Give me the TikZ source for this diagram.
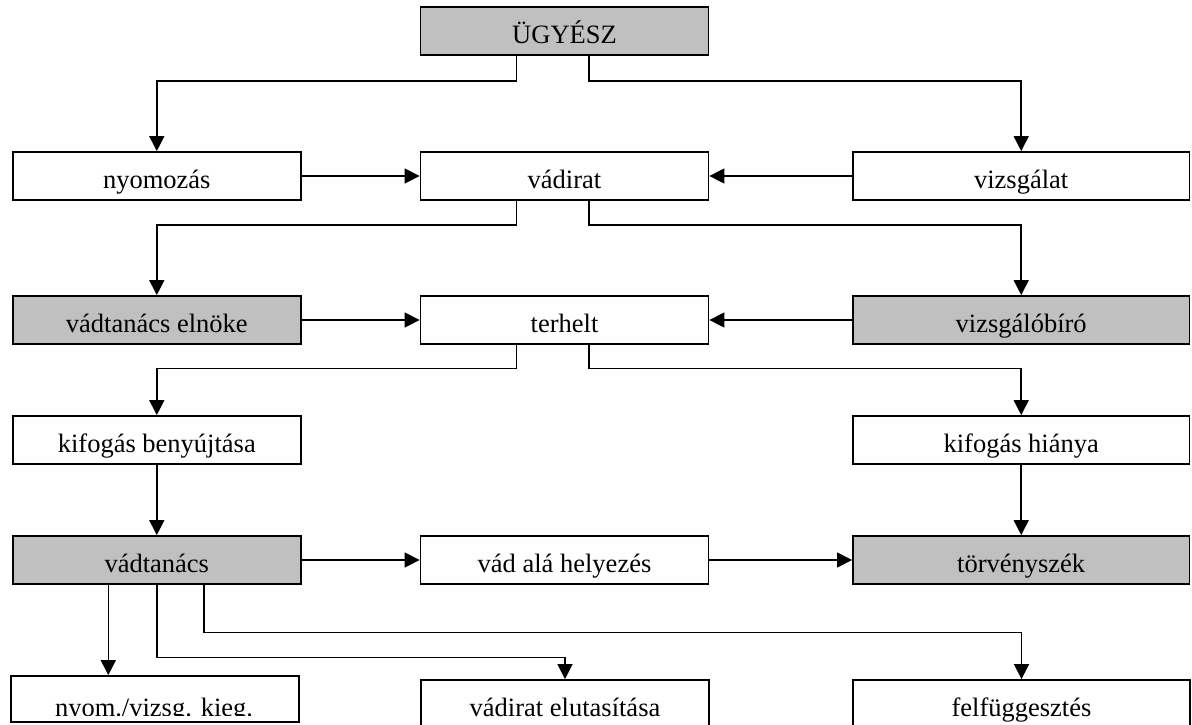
\documentclass[tikz,border=0pt]{standalone}
\usepackage{fontspec}
\setmainfont{Liberation Serif}
\usetikzlibrary{arrows.meta}
\definecolor{boxgray}{HTML}{C0C0C0}
\tikzset{
  box/.style={draw, line width=1.8pt, inner sep=0pt, minimum height=48pt,
    text height=24pt, text depth=0pt, fill=white,
    font=\fontsize{26.5}{30}\selectfont},
  narrowbox/.style={box, minimum width=288pt},
  widebox/.style={box, minimum width=336.5pt},
  shaded/.style={fill=boxgray},
  conn/.style={line width=1.5pt, -{Triangle[length=15pt,width=15pt]}}
}
\begin{document}
\begin{tikzpicture}[x=1pt,y=-1pt]
\useasboundingbox (0,0) rectangle (1192,724);
\clip (0,0) rectangle (1192,724);

% prosecutor
\node[narrowbox, shaded] (ug) at (564.5,31) {ÜGYÉSZ};

% second row
\node[narrowbox] (nyom) at (156.8,176) {nyomozás};
\node[narrowbox] (vad) at (564.5,176) {vádirat};
\node[widebox] (vizs) at (1021.2,176) {vizsgálat};

% third row
\node[narrowbox, shaded] (elnok) at (156.8,320) {vádtanács elnöke};
\node[narrowbox] (terh) at (564.5,320) {terhelt};
\node[widebox, shaded] (vbiro) at (1021.2,320) {vizsgálóbíró};

% objection
\node[narrowbox] (kifb) at (156.8,440) {kifogás benyújtása};
\node[widebox] (kifh) at (1021.2,440) {kifogás hiánya};

% fifth row
\node[narrowbox, shaded] (vt) at (156.8,560) {vádtanács};
\node[narrowbox] (vah) at (564.5,560) {vád alá helyezés};
\node[widebox, shaded] (tsz) at (1021.2,560) {törvényszék};

% outcomes
\node[narrowbox, minimum height=46pt] (nyk) at (155,699) {};
\begin{scope}
  \clip (nyk.north west) rectangle (299,715);
  \node[anchor=base, inner sep=0pt, font=\fontsize{26.5}{30}\selectfont] (nyktxt) at (154,716) {nyom./vizsg. kieg.};
\end{scope}
\node[narrowbox] (velut) at (565,704) {vádirat elutasítása};
\node[widebox] (felf) at (1021.5,704) {felfüggesztés};

% connectors
\draw[conn] ([xshift=-47.8pt]ug.south) -- ++(0,25) -| (nyom.north);
\draw[conn] ([xshift=24.5pt]ug.south) -- ++(0,25) -| (vizs.north);
\draw[conn] (nyom.east) -- (vad.west);
\draw[conn] (vizs.west) -- (vad.east);

\draw[conn] ([xshift=-47.8pt]vad.south) -- ++(0,24) -| (elnok.north);
\draw[conn] ([xshift=24.5pt]vad.south) -- ++(0,24) -| (vbiro.north);
\draw[conn] (elnok.east) -- (terh.west);
\draw[conn] (vbiro.west) -- (terh.east);

\draw[conn] ([xshift=-47.8pt]terh.south) -- ++(0,23.7) -| (kifb.north);
\draw[conn] ([xshift=24.5pt]terh.south) -- ++(0,23.7) -| (kifh.north);

\draw[conn] (kifb.south) -- (vt.north);
\draw[conn] (kifh.south) -- (tsz.north);
\draw[conn] (vt.east) -- (vah.west);
\draw[conn] (vah.east) -- (tsz.west);

\draw[conn] ([xshift=-48.5pt]vt.south) -- ([xshift=-48.5pt]vt.south |- nyk.north);
\draw[conn] (vt.south) -- ++(0,72.7) -| (velut.north);
\draw[conn] ([xshift=47.2pt]vt.south) -- ++(0,47.7) -| (felf.north);
\end{tikzpicture}
\end{document}
